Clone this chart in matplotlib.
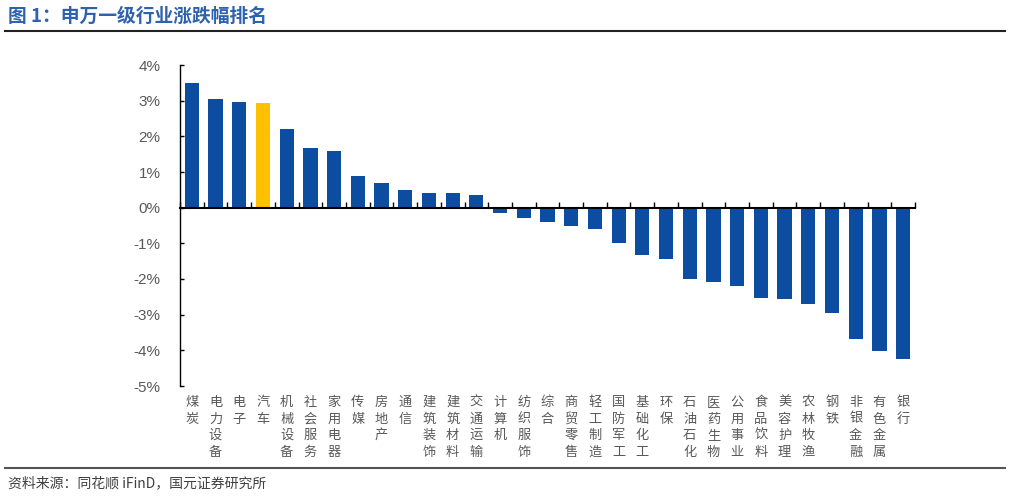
import matplotlib
matplotlib.use("Agg")
import matplotlib.pyplot as plt
from matplotlib.ticker import FixedLocator, FuncFormatter
import matplotlib.transforms as mtransforms

plt.rcParams['font.family'] = ['Liberation Sans', 'Noto Sans CJK SC', 'DejaVu Sans']

categories = ["煤炭", "电力设备", "电子", "汽车", "机械设备", "社会服务", "家用电器", "传媒",
              "房地产", "通信", "建筑装饰", "建筑材料", "交通运输", "计算机", "纺织服饰", "综合",
              "商贸零售", "轻工制造", "国防军工", "基础化工", "环保", "石油石化", "医药生物",
              "公用事业", "食品饮料", "美容护理", "农林牧渔", "钢铁", "非银金融", "有色金属", "银行"]
values = [3.50, 3.05, 2.95, 2.93, 2.21, 1.66, 1.58, 0.90, 0.69, 0.49, 0.42, 0.41, 0.35,
          -0.16, -0.28, -0.39, -0.52, -0.60, -0.99, -1.34, -1.44, -2.00, -2.09, -2.20,
          -2.54, -2.57, -2.71, -2.96, -3.68, -4.03, -4.23]
highlight = "汽车"
yticks = [4, 3, 2, 1, 0, -1, -2, -3, -4, -5]

title = "图 1：申万一级行业涨跌幅排名"
source = "资料来源：同花顺 iFinD，国元证券研究所"

blue = "#0C4DA2"
yellow = "#FFC000"

fig = plt.figure(figsize=(10.14, 4.98), dpi=100)
ax = fig.add_axes([180/1014, 1-386/498, (915-180)/1014, (386-65)/498])

x = list(range(len(categories)))
colors = [yellow if c == highlight else blue for c in categories]
ax.bar(x, values, width=0.6, color=colors, edgecolor='none', zorder=2)

ax.set_xlim(-0.5, len(categories) - 0.5)
ax.set_ylim(-5, 4)
ax.set_yticks(yticks)
ax.yaxis.set_major_formatter(FuncFormatter(lambda v, p: f"{int(round(v))}%"))
ax.tick_params(axis='y', direction='in', length=3, width=1, pad=14,
               labelsize=11, labelcolor='#595959', color='black')

ax.spines['top'].set_visible(False)
ax.spines['right'].set_visible(False)
ax.spines['bottom'].set_position(('data', 0))
ax.spines['bottom'].set_linewidth(1.5)
ax.spines['left'].set_linewidth(1.0)

ax.xaxis.set_major_locator(FixedLocator([i + 0.5 for i in range(-1, len(categories))]))
ax.tick_params(axis='x', direction='in', length=4, width=1, labelbottom=False, color='black')

trans = mtransforms.blended_transform_factory(ax.transData, fig.transFigure)
for i, c in enumerate(categories):
    ax.text(i, 1 - 396/498, "\n".join(c), transform=trans, ha='center', va='top',
            fontsize=9.5, color='#595959', family=['Noto Sans CJK SC', 'DejaVu Sans'],
            linespacing=1.35, clip_on=False)

fig.text(8/1014, 1 - 16/498, title, ha='left', va='center', fontsize=13.5,
         fontweight='bold', color='#2E62AE', family=['Noto Sans CJK SC', 'DejaVu Sans'])
fig.add_artist(plt.Line2D([5/1014, 1005/1014], [1 - 31/498, 1 - 31/498],
                          transform=fig.transFigure, color='#222222', linewidth=1.5))
fig.add_artist(plt.Line2D([5/1014, 1005/1014], [1 - 468/498, 1 - 468/498],
                          transform=fig.transFigure, color='#555555', linewidth=1.5))
fig.text(8/1014, 1 - 483/498, source, ha='left', va='center', fontsize=10,
         color='#404040', family=['Noto Sans CJK SC', 'DejaVu Sans'])

fig.savefig("out.png", dpi=100)
